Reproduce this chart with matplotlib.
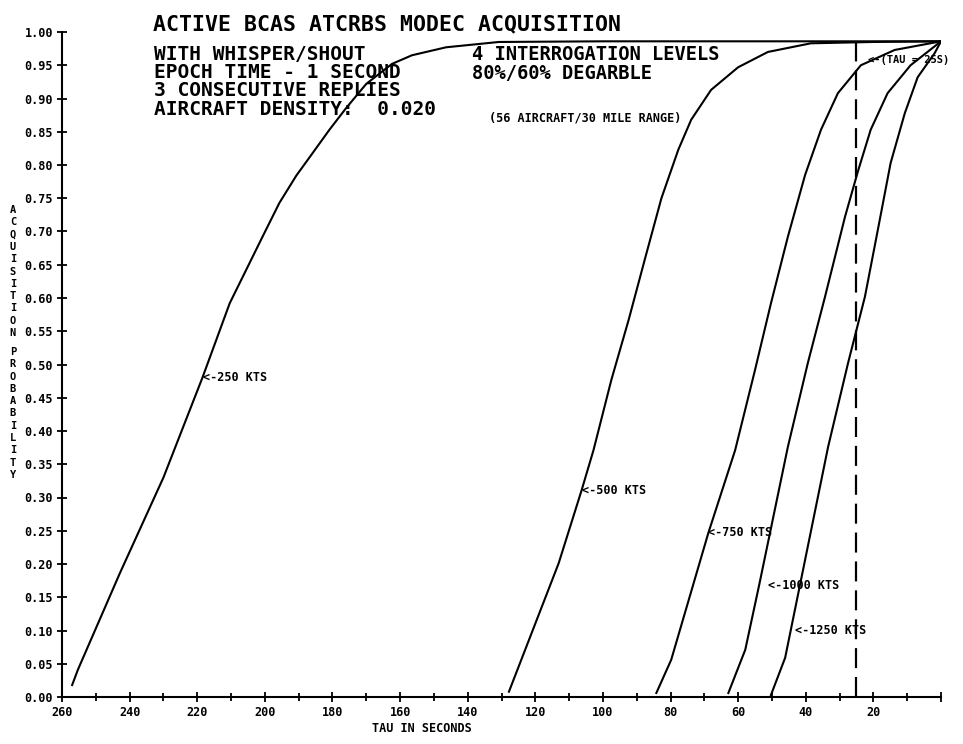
import matplotlib
matplotlib.use('Agg')
import matplotlib.pyplot as plt
from matplotlib.ticker import FixedLocator, MultipleLocator

# curves: time to go (tau, s) vs acquisition probability
tau_250 = [257.0, 255.3, 242.9, 230.0, 218.4, 210.4, 200.7, 195.7, 190.7, 186.0,
           180.9, 175.9, 170.0, 162.4, 156.5, 146.4, 130.8, 100.0, 60.0, 0.0]
p_250 = [0.018, 0.041, 0.186, 0.330, 0.481, 0.592, 0.692, 0.743, 0.784, 0.817,
         0.853, 0.886, 0.922, 0.952, 0.965, 0.977, 0.985, 0.986, 0.986, 0.986]

tau_500 = [127.8, 113.1, 106.3, 102.8, 97.5, 92.4, 87.4, 82.7, 77.7, 73.9,
           68.0, 60.0, 51.2, 38.5, 20.0, 0.0]
p_500 = [0.008, 0.201, 0.311, 0.371, 0.477, 0.567, 0.662, 0.750, 0.823, 0.868,
         0.913, 0.947, 0.970, 0.983, 0.985, 0.986]

tau_750 = [84.2, 79.8, 68.8, 60.9, 55.0, 50.3, 45.3, 40.2, 35.5, 30.5, 23.7, 13.7, 0.0]
p_750 = [0.006, 0.056, 0.247, 0.371, 0.492, 0.592, 0.692, 0.785, 0.853, 0.908, 0.950, 0.973, 0.986]

tau_1000 = [62.9, 57.9, 53.8, 45.3, 39.4, 34.3, 28.4, 24.6, 20.8, 15.8, 9.0, 0.0]
p_1000 = [0.006, 0.071, 0.168, 0.376, 0.502, 0.602, 0.722, 0.790, 0.853, 0.908, 0.950, 0.986]

tau_1250 = [50.3, 46.1, 33.4, 27.5, 22.5, 18.7, 14.9, 10.7, 6.9, 1.9, 0.0]
p_1250 = [0.003, 0.059, 0.376, 0.502, 0.602, 0.702, 0.803, 0.878, 0.932, 0.968, 0.986]

curve_labels = ['<-250 KTS', '<-500 KTS', '<-750 KTS', '<-1000 KTS', '<-1250 KTS']
label_tau = [218.4, 106.3, 68.8, 51.2, 43.2]
label_p = [0.481, 0.311, 0.247, 0.168, 0.100]

tau_limit = 25
x_ticks = list(range(0, 261, 20))
y_ticks = [i * 0.05 for i in range(21)]

FONT = 'DejaVu Sans Mono'
W, H = 963, 744


def fpos(x, y):
    # pixel position -> figure fraction
    return x / W, 1 - y / H


fig = plt.figure(figsize=(9.63, 7.44), dpi=100)
ax = fig.add_axes([62 / W, 47 / H, (941 - 62) / W, (697 - 32) / H])

for t, p in [(tau_250, p_250), (tau_500, p_500), (tau_750, p_750),
             (tau_1000, p_1000), (tau_1250, p_1250)]:
    ax.plot(t, p, color='black', lw=1.5)

ax.plot([tau_limit, tau_limit], [0, 0.986], color='black', lw=1.6,
        linestyle=(0, (9, 4)))

for lab, t, p in zip(curve_labels, label_tau, label_p):
    ax.text(t, p, lab, ha='left', va='center', fontsize=8.5,
            family=FONT, weight='bold')
ax.text(21.5, 0.958, '<-(TAU = 25S)', ha='left', va='center', fontsize=7.5,
        family=FONT, weight='bold', clip_on=False)

ax.set_xlim(260, 0)
ax.set_ylim(0, 1.0)
ax.spines['top'].set_visible(False)
ax.spines['right'].set_visible(False)
ax.spines['left'].set_linewidth(1.5)
ax.spines['bottom'].set_linewidth(1.5)

ax.xaxis.set_major_locator(FixedLocator(x_ticks))
ax.set_xticklabels(['' if v == 0 else str(v) for v in x_ticks])
ax.xaxis.set_minor_locator(MultipleLocator(10))
ax.yaxis.set_major_locator(FixedLocator(y_ticks))
ax.set_yticklabels(['%.2f' % v for v in y_ticks])
ax.tick_params(which='major', direction='inout', length=7, width=1.3, pad=3)
ax.tick_params(which='minor', direction='inout', length=6, width=1.3)
for lab in ax.get_xticklabels() + ax.get_yticklabels():
    lab.set_family(FONT)
    lab.set_weight('bold')
    lab.set_fontsize(8.5)

# header texts
fig.text(*fpos(153, 24), 'ACTIVE BCAS ATCRBS MODEC ACQUISITION', ha='left',
         va='center', fontsize=15.5, family=FONT, weight='bold')
left_lines = ['WITH WHISPER/SHOUT', 'EPOCH TIME - 1 SECOND',
              '3 CONSECUTIVE REPLIES', 'AIRCRAFT DENSITY:  0.020']
for i, s in enumerate(left_lines):
    fig.text(*fpos(154, 54 + i * 18.5), s, ha='left', va='center',
             fontsize=14, family=FONT, weight='bold')
right_lines = ['4 INTERROGATION LEVELS', '80%/60% DEGARBLE']
for i, s in enumerate(right_lines):
    fig.text(*fpos(472, 55 + i * 18.5), s, ha='left', va='center',
             fontsize=13.5, family=FONT, weight='bold')
fig.text(*fpos(489, 118), '(56 AIRCRAFT/30 MILE RANGE)', ha='left', va='center',
         fontsize=8.5, family=FONT, weight='bold')

# stacked y-axis title
for i, ch in enumerate('ACQUISITION'):
    fig.text(*fpos(13, 210 + i * 12.3), ch, ha='center', va='center',
             fontsize=7.5, family=FONT, weight='bold')
for i, ch in enumerate('PROBABILITY'):
    fig.text(*fpos(13, 352 + i * 12.3), ch, ha='center', va='center',
             fontsize=7.5, family=FONT, weight='bold')

fig.text(*fpos(422, 728), 'TAU IN SECONDS', ha='center', va='center',
         fontsize=8.5, family=FONT, weight='bold')

plt.savefig('out.png', dpi=100)
plt.close()
